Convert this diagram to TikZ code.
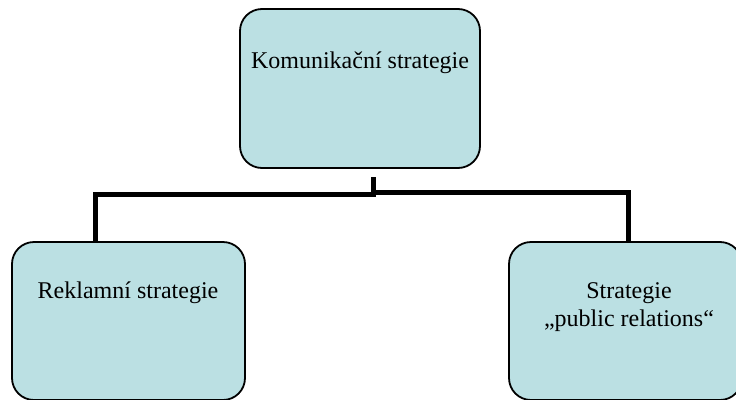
\documentclass[tikz,border=0pt]{standalone}
\usepackage{fontspec}
\setmainfont{Liberation Serif}
\definecolor{boxfill}{RGB}{187,224,227}
\begin{document}
\begin{tikzpicture}[x=1pt,y=-1pt,
  stratbox/.style={draw=black, line width=1.8pt, fill=boxfill, rounded corners=22pt, inner sep=0pt},
  lbl/.style={inner sep=0pt, align=center, font=\fontsize{24}{28}\selectfont},
  conn/.style={draw=black, line width=5pt}]
\useasboundingbox (0,0) rectangle (736,399);
\clip (0,0) rectangle (736,399);
\node[stratbox, minimum width=240pt, minimum height=159pt] (top) at (360,88.5) {};
\node[stratbox, minimum width=233pt, minimum height=158pt] (left) at (128.5,321) {};
\node[stratbox, minimum width=233pt, minimum height=158pt] (right) at (625.5,321) {};
\node[lbl] (toptxt) at (360,63) {Komunikační strategie};
\node[lbl] (lefttxt) at (128,293) {Reklamní strategie};
\node[lbl] (righttxt) at (629,307) {Strategie\\„public relations“};
\coordinate (stub) at (373.5,177);
\coordinate (lbend) at (373.5,194.5);
\coordinate (rbend) at (373.5,192.5);
\draw[conn] (stub) -- (lbend) -| ([xshift=-33pt]left.north);
\draw[conn] (stub) -- (rbend) -| ([xshift=3pt]right.north);
\end{tikzpicture}
\end{document}
